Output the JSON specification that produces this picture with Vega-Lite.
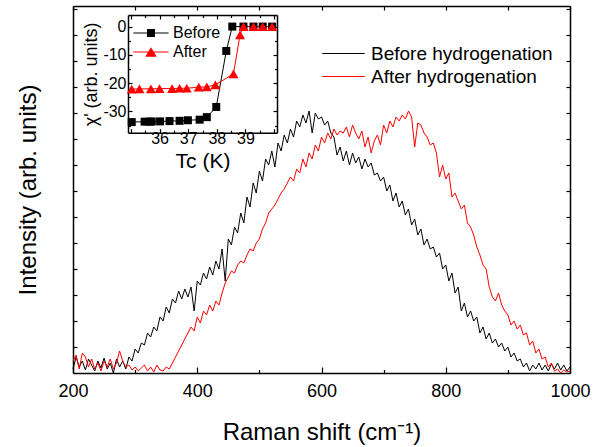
{
  "$schema": "https://vega.github.io/schema/vega-lite/v6.json",
  "width": 497,
  "height": 367,
  "autosize": {"type": "none"},
  "padding": {"left": 73, "top": 6, "right": 35, "bottom": 74},
  "config": {
    "font": "Liberation Sans",
    "view": {"stroke": null},
    "axis": {"domainColor": "#000000", "domainWidth": 1.5, "tickColor": "#000000", "tickWidth": 1.2, "labelColor": "#000000", "titleColor": "#000000", "grid": false, "titleFontWeight": "normal", "labelFont": "Liberation Sans", "titleFont": "Liberation Sans", "labelFlush": false},
    "legend": {"labelFont": "Liberation Sans", "labelColor": "#000000", "labelLimit": 0}
  },
  "datasets": {
    "raman": [
      {"x":200,"B":4,"A":12},{"x":205,"B":16,"A":18},{"x":210,"B":6,"A":4},{"x":215,"B":12,"A":20},{"x":220,"B":3,"A":16},{"x":225,"B":14,"A":6},{"x":230,"B":8,"A":14},{"x":235,"B":2,"A":4},{"x":240,"B":12,"A":10},{"x":245,"B":5,"A":2},
      {"x":250,"B":15,"A":12},{"x":255,"B":4,"A":6},{"x":260,"B":10,"A":14},{"x":265,"B":0,"A":4},{"x":270,"B":14,"A":10},{"x":275,"B":6,"A":22},{"x":280,"B":12,"A":12},{"x":285,"B":4,"A":6},{"x":290,"B":16,"A":8},{"x":295,"B":12,"A":3},
      {"x":300,"B":24,"A":6},{"x":305,"B":20,"A":2},{"x":310,"B":30,"A":5},{"x":315,"B":28,"A":8},{"x":320,"B":40,"A":2},{"x":325,"B":36,"A":6},{"x":330,"B":46,"A":1},{"x":335,"B":42,"A":8},{"x":340,"B":56,"A":3},{"x":345,"B":52,"A":2},
      {"x":350,"B":66,"A":6},{"x":355,"B":60,"A":4},{"x":360,"B":74,"A":10},{"x":365,"B":70,"A":16},{"x":370,"B":82,"A":22},{"x":375,"B":74,"A":28},{"x":380,"B":84,"A":34},{"x":385,"B":76,"A":40},{"x":390,"B":86,"A":46},{"x":395,"B":62,"A":42},
      {"x":400,"B":92,"A":56},{"x":405,"B":88,"A":50},{"x":410,"B":100,"A":62},{"x":415,"B":94,"A":58},{"x":420,"B":106,"A":68},{"x":425,"B":98,"A":62},{"x":430,"B":112,"A":72},{"x":435,"B":104,"A":68},{"x":440,"B":124,"A":80},{"x":445,"B":92,"A":90},
      {"x":450,"B":134,"A":96},{"x":455,"B":128,"A":102},{"x":460,"B":146,"A":100},{"x":465,"B":140,"A":108},{"x":470,"B":160,"A":112},{"x":475,"B":150,"A":110},{"x":480,"B":176,"A":118},{"x":485,"B":166,"A":124},{"x":490,"B":190,"A":122},{"x":495,"B":180,"A":130},
      {"x":500,"B":202,"A":134},{"x":505,"B":192,"A":144},{"x":510,"B":214,"A":150},{"x":515,"B":208,"A":160},{"x":520,"B":222,"A":164},{"x":525,"B":206,"A":168},{"x":530,"B":230,"A":174},{"x":535,"B":222,"A":180},{"x":540,"B":238,"A":184},{"x":545,"B":230,"A":190},
      {"x":550,"B":244,"A":196},{"x":555,"B":236,"A":192},{"x":560,"B":252,"A":204},{"x":565,"B":246,"A":200},{"x":570,"B":258,"A":214},{"x":575,"B":250,"A":206},{"x":580,"B":262,"A":220},{"x":585,"B":240,"A":214},{"x":590,"B":260,"A":228},{"x":595,"B":254,"A":222},
      {"x":600,"B":256,"A":236},{"x":605,"B":248,"A":230},{"x":610,"B":252,"A":240},{"x":615,"B":240,"A":234},{"x":620,"B":236,"A":244},{"x":625,"B":218,"A":238},{"x":630,"B":226,"A":242},{"x":635,"B":212,"A":240},{"x":640,"B":222,"A":246},{"x":645,"B":208,"A":236},
      {"x":650,"B":220,"A":248},{"x":655,"B":210,"A":240},{"x":660,"B":216,"A":234},{"x":665,"B":204,"A":242},{"x":670,"B":214,"A":226},{"x":675,"B":206,"A":236},{"x":680,"B":210,"A":220},{"x":685,"B":198,"A":232},{"x":690,"B":200,"A":238},{"x":695,"B":192,"A":228},
      {"x":700,"B":196,"A":248},{"x":705,"B":182,"A":240},{"x":710,"B":188,"A":252},{"x":715,"B":172,"A":246},{"x":720,"B":180,"A":256},{"x":725,"B":166,"A":252},{"x":730,"B":172,"A":258},{"x":735,"B":158,"A":254},{"x":740,"B":164,"A":262},{"x":745,"B":148,"A":256},
      {"x":750,"B":154,"A":226},{"x":755,"B":138,"A":250},{"x":760,"B":144,"A":248},{"x":765,"B":128,"A":240},{"x":770,"B":134,"A":236},{"x":775,"B":124,"A":228},{"x":780,"B":126,"A":230},{"x":785,"B":116,"A":220},{"x":790,"B":120,"A":196},{"x":795,"B":104,"A":208},
      {"x":800,"B":108,"A":194},{"x":805,"B":92,"A":200},{"x":810,"B":100,"A":176},{"x":815,"B":80,"A":180},{"x":820,"B":86,"A":172},{"x":825,"B":62,"A":164},{"x":830,"B":70,"A":168},{"x":835,"B":56,"A":150},{"x":840,"B":62,"A":146},{"x":845,"B":52,"A":138},
      {"x":850,"B":56,"A":126},{"x":855,"B":40,"A":118},{"x":860,"B":46,"A":108},{"x":865,"B":34,"A":104},{"x":870,"B":40,"A":86},{"x":875,"B":30,"A":76},{"x":880,"B":34,"A":72},{"x":885,"B":26,"A":80},{"x":890,"B":30,"A":68},{"x":895,"B":22,"A":62},
      {"x":900,"B":26,"A":58},{"x":905,"B":16,"A":48},{"x":910,"B":20,"A":52},{"x":915,"B":12,"A":44},{"x":920,"B":14,"A":48},{"x":925,"B":6,"A":38},{"x":930,"B":10,"A":40},{"x":935,"B":2,"A":28},{"x":940,"B":8,"A":32},{"x":945,"B":4,"A":20},
      {"x":950,"B":10,"A":24},{"x":955,"B":3,"A":14},{"x":960,"B":8,"A":16},{"x":965,"B":2,"A":6},{"x":970,"B":9,"A":10},{"x":975,"B":4,"A":2},{"x":980,"B":10,"A":4},{"x":985,"B":3,"A":0},{"x":990,"B":8,"A":3},{"x":995,"B":2,"A":1},
      {"x":1000,"B":6,"A":2}
    ],
    "chi": [
      {"T":35.03,"chi":-33.75,"s":"Before"},{"T":35.48,"chi":-33.6,"s":"Before"},{"T":35.65,"chi":-33.6,"s":"Before"},{"T":35.73,"chi":-33.55,"s":"Before"},{"T":36.02,"chi":-33.5,"s":"Before"},{"T":36.35,"chi":-33.4,"s":"Before"},{"T":36.7,"chi":-33.3,"s":"Before"},{"T":36.99,"chi":-33.1,"s":"Before"},{"T":37.4,"chi":-32.9,"s":"Before"},{"T":37.65,"chi":-32.0,"s":"Before"},{"T":37.98,"chi":-28.4,"s":"Before"},{"T":38.33,"chi":-8.6,"s":"Before"},{"T":38.54,"chi":0,"s":"Before"},{"T":38.93,"chi":0,"s":"Before"},{"T":39.28,"chi":0,"s":"Before"},{"T":39.6,"chi":0,"s":"Before"},{"T":39.93,"chi":0,"s":"Before"},
      {"T":35.03,"chi":-22.1,"s":"After"},{"T":35.3,"chi":-22.0,"s":"After"},{"T":35.7,"chi":-22.0,"s":"After"},{"T":36.0,"chi":-21.9,"s":"After"},{"T":36.44,"chi":-21.9,"s":"After"},{"T":36.7,"chi":-21.8,"s":"After"},{"T":36.95,"chi":-21.8,"s":"After"},{"T":37.37,"chi":-21.4,"s":"After"},{"T":37.65,"chi":-21.3,"s":"After"},{"T":37.95,"chi":-20.6,"s":"After"},{"T":38.58,"chi":-16.7,"s":"After"},{"T":38.81,"chi":-2.9,"s":"After"},{"T":38.93,"chi":0,"s":"After"},{"T":39.28,"chi":0,"s":"After"},{"T":39.6,"chi":0,"s":"After"},{"T":39.93,"chi":0,"s":"After"}
    ]
  },
  "layer": [
    {
      "data": {"name": "raman"},
      "transform": [{"fold": ["B", "A"], "as": ["series", "y"]}],
      "layer": [
        {
          "mark": {"type": "line", "strokeWidth": 1},
          "encoding": {
            "x": {"field": "x", "type": "quantitative",
              "scale": {"domain": [200, 1000], "nice": false, "zero": false},
              "axis": {"orient": "bottom", "values": [200,300,400,500,600,700,800,900,1000], "format": "d",
                "labelExpr": "datum.value % 200 === 0 ? datum.label : ''",
                "tickSize": {"condition": {"test": "datum.value % 200 === 0", "value": -6}, "value": -3.5},
                "labelFontSize": 18, "labelPadding": 15, "title": "Raman shift  (cm⁻¹)", "titleFontSize": 24, "titlePadding": 20}},
            "y": {"field": "y", "type": "quantitative",
              "scale": {"domain": [0, 367], "nice": false, "zero": false},
              "axis": {"orient": "left", "values": [26,52,78,104,130,156,182,208,234,260,286,312,338,364], "labels": false, "tickSize": -4,
                "title": "Intensity (arb. units)", "titleFontSize": 24, "titlePadding": 32}},
            "color": {"field": "series", "type": "nominal",
              "scale": {"domain": ["B", "A"], "range": ["#000000", "#ff0000"]},
              "legend": {"orient": "none", "legendX": 261, "legendY": 38, "title": null, "padding": 0,
                "symbolType": "M-3,0H3", "symbolSize": 200, "symbolStrokeWidth": 1,
                "labelFontSize": 19, "labelOffset": 18, "rowPadding": 3, "labelLimit": 0,
                "labelExpr": "datum.label === 'B' ? 'Before hydrogenation' : 'After hydrogenation'"}}
          }
        },
        {
          "mark": {"type": "line", "opacity": 0},
          "encoding": {
            "x": {"field": "x", "type": "quantitative",
              "axis": {"orient": "top", "values": [200,300,400,500,600,700,800,900,1000], "labels": false, "tickSize": -4, "title": null}},
            "y": {"field": "y", "type": "quantitative",
              "axis": {"orient": "right", "values": [26,52,78,104,130,156,182,208,234,260,286,312,338,364], "labels": false, "tickSize": -4, "title": null}},
            "detail": {"field": "series"}
          }
        }
      ],
      "resolve": {"axis": {"x": "independent", "y": "independent"}}
    },
    {
      "data": {"name": "chi"},
      "layer": [
        {
          "transform": [{"filter": "datum.s === 'Before'"}],
          "mark": {"type": "line", "strokeWidth": 1, "color": "#000000"},
          "encoding": {
            "x": {"field": "T", "type": "quantitative",
              "scale": {"domain": [34.9, 40.1], "range": [55, 204], "nice": false, "zero": false},
              "axis": {"orient": "bottom", "offset": -240.3, "values": [35,35.5,36,36.5,37,37.5,38,38.5,39,39.5,40],
                "labelExpr": "datum.value % 1 === 0 && datum.value > 35.5 && datum.value < 39.5 ? '' + datum.value : ''",
                "tickSize": {"condition": {"test": "datum.value % 1 === 0", "value": -4}, "value": -2.5},
                "labelFontSize": 16, "labelPadding": 2, "title": "Tc (K)", "titleFontSize": 21, "titlePadding": 4}},
            "y": {"field": "chi", "type": "quantitative",
              "scale": {"domain": [-37.5, 4.1], "range": [126.7, 9], "nice": false, "zero": false},
              "axis": {"orient": "left", "offset": -55, "values": [-35,-30,-25,-20,-15,-10,-5,0],
                "labelExpr": "datum.value % 10 === 0 ? '' + datum.value : ''",
                "tickSize": {"condition": {"test": "datum.value % 10 === 0", "value": -4}, "value": -2.5},
                "labelFontSize": 16, "labelPadding": 6, "title": "χ' (arb. units)", "titleFontSize": 18, "titlePadding": 2}}
          }
        },
        {
          "transform": [{"filter": "datum.s === 'After'"}],
          "mark": {"type": "line", "strokeWidth": 1, "color": "#ff0000"},
          "encoding": {
            "x": {"field": "T", "type": "quantitative", "axis": null},
            "y": {"field": "chi", "type": "quantitative", "axis": null}
          }
        },
        {
          "transform": [{"filter": "datum.s === 'Before'"}],
          "mark": {"type": "point", "shape": "square", "size": 64, "filled": true, "color": "#000000", "opacity": 1},
          "encoding": {
            "x": {"field": "T", "type": "quantitative", "axis": null},
            "y": {"field": "chi", "type": "quantitative", "axis": null}
          }
        },
        {
          "transform": [{"filter": "datum.s === 'After'"}],
          "mark": {"type": "point", "shape": "triangle-up", "size": 100, "filled": true, "color": "#ff0000", "opacity": 1},
          "encoding": {
            "x": {"field": "T", "type": "quantitative", "axis": null},
            "y": {"field": "chi", "type": "quantitative", "axis": null}
          }
        },
        {
          "mark": {"type": "line", "opacity": 0},
          "encoding": {
            "x": {"field": "T", "type": "quantitative",
              "axis": {"orient": "top", "offset": -9, "values": [35,35.5,36,36.5,37,37.5,38,38.5,39,39.5,40], "labels": false,
                "tickSize": {"condition": {"test": "datum.value % 1 === 0", "value": -4}, "value": -2.5}, "title": null}},
            "y": {"field": "chi", "type": "quantitative",
              "axis": {"orient": "right", "offset": -293, "values": [-35,-30,-25,-20,-15,-10,-5,0], "labels": false,
                "tickSize": {"condition": {"test": "datum.value % 10 === 0", "value": -4}, "value": -2.5}, "title": null}},
            "detail": {"field": "s"}
          }
        },
        {
          "mark": {"type": "point", "filled": true, "opacity": 0},
          "encoding": {
            "color": {"field": "s", "type": "nominal", "scale": {"domain": ["Before", "After"], "range": ["#000000", "#ff0000"]},
              "legend": {"orient": "none", "legendX": 69, "legendY": 18, "title": null, "padding": 0, "symbolOpacity": 1,
                "symbolSize": 256, "labelFontSize": 16, "labelOffset": 13, "rowPadding": 2}},
            "shape": {"field": "s", "type": "nominal",
              "scale": {"domain": ["Before", "After"], "range": ["M-2.2,-0.06H2.2V0.06H-2.2Z M-0.5,-0.5H0.5V0.5H-0.5Z", "M-2.2,-0.06H2.2V0.06H-2.2Z M0,-0.6L0.72,0.6H-0.72Z"]},
              "legend": {"orient": "none", "legendX": 69, "legendY": 18, "title": null, "padding": 0, "symbolOpacity": 1,
                "symbolSize": 256, "labelFontSize": 16, "labelOffset": 13, "rowPadding": 2}}
          }
        }
      ],
      "resolve": {"axis": {"x": "independent", "y": "independent"}}
    }
  ],
  "resolve": {"scale": {"x": "independent", "y": "independent", "color": "independent", "shape": "independent"}}
}
